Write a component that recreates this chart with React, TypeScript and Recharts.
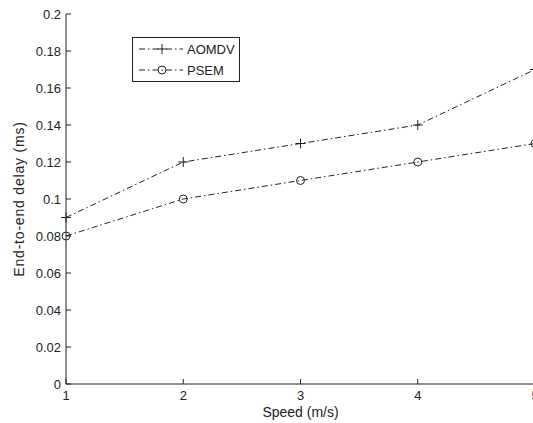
import { Legend, Line, LineChart, XAxis, YAxis } from "recharts";

const speeds = [1, 2, 3, 4, 5];
const aomdv = [0.09, 0.12, 0.13, 0.14, 0.17];
const psem = [0.08, 0.1, 0.11, 0.12, 0.13];
const yTicks = [0, 0.02, 0.04, 0.06, 0.08, 0.1, 0.12, 0.14, 0.16, 0.18, 0.2];

const data = speeds.map((speed, i) => ({ speed, aomdv: aomdv[i], psem: psem[i] }));

const FONT = "'Liberation Sans', Arial, sans-serif";
const INK = "#222";
const DASH = "6 3 1.5 3";
const TICK = 5;

function fmt(v: number) {
  return String(Number(v.toFixed(2)));
}

function PlusDot(props: any) {
  const { cx, cy } = props;
  if (cx == null || cy == null) return null;
  return (
    <path
      d={`M${cx - 5},${cy}H${cx + 5}M${cx},${cy - 5}V${cy + 5}`}
      stroke={INK}
      strokeWidth={1}
      fill="none"
    />
  );
}

function CircleDot(props: any) {
  const { cx, cy } = props;
  if (cx == null || cy == null) return null;
  return <circle cx={cx} cy={cy} r={4} stroke={INK} strokeWidth={1} fill="none" />;
}

function LeftTick({ x, y, payload }: any) {
  return (
    <g>
      <line x1={x} y1={y} x2={x + TICK} y2={y} stroke={INK} />
      <text x={x - 5} y={y} dy="0.35em" textAnchor="end" fontSize={13} fill={INK} fontFamily={FONT}>
        {fmt(payload.value)}
      </text>
    </g>
  );
}

function RightTick({ x, y }: any) {
  return <line x1={x} y1={y} x2={x - TICK} y2={y} stroke={INK} />;
}

function BottomTick({ x, y, payload }: any) {
  return (
    <g>
      <line x1={x} y1={y} x2={x} y2={y - TICK} stroke={INK} />
      <text x={x} y={y + 7} dy="0.71em" textAnchor="middle" fontSize={13} fill={INK} fontFamily={FONT}>
        {payload.value}
      </text>
    </g>
  );
}

function TopTick({ x, y }: any) {
  return <line x1={x} y1={y} x2={x} y2={y + TICK} stroke={INK} />;
}

const legendRows = [
  { name: "AOMDV", Marker: PlusDot },
  { name: "PSEM", Marker: CircleDot },
];

function LegendBox() {
  return (
    <svg width={109} height={46} style={{ display: "block" }}>
      <rect x={0.5} y={0.5} width={107} height={44} fill="#fff" stroke={INK} />
      {legendRows.map(({ name, Marker }, i) => {
        const y = 12 + i * 21;
        return (
          <g key={name}>
            <line x1={7} y1={y} x2={51} y2={y} stroke={INK} strokeDasharray={DASH} />
            <Marker cx={30} cy={y} />
            <text x={55} y={y} dy="0.35em" fontSize={13} fill={INK} fontFamily={FONT}>
              {name}
            </text>
          </g>
        );
      })}
    </svg>
  );
}

export default function App() {
  return (
    <div
      style={{
        position: "absolute",
        left: 0,
        top: 0,
        width: 533,
        height: 423,
        overflow: "hidden",
        background: "#fff",
      }}
    >
      <LineChart width={540} height={423} data={data} margin={{ top: 14, right: 5, left: 0, bottom: 0 }}>
        <XAxis
          dataKey="speed"
          type="number"
          domain={[1, 5]}
          ticks={speeds}
          height={39}
          tickSize={0}
          tickMargin={0}
          tick={<BottomTick />}
          axisLine={{ stroke: INK }}
          label={{
            value: "Speed (m/s)",
            position: "insideBottom",
            offset: 6,
            style: { fontSize: 14, fill: INK, fontFamily: FONT },
          }}
        />
        <XAxis
          xAxisId="top"
          dataKey="speed"
          type="number"
          orientation="top"
          domain={[1, 5]}
          ticks={speeds}
          allowDataOverflow
          height={0}
          tickSize={0}
          tick={<TopTick />}
          axisLine={{ stroke: INK }}
        />
        <YAxis
          type="number"
          domain={[0, 0.2]}
          ticks={yTicks}
          width={66}
          tickSize={0}
          tickMargin={0}
          tick={<LeftTick />}
          axisLine={{ stroke: INK }}
          label={{
            value: "End-to-end delay (ms)",
            angle: -90,
            position: "insideLeft",
            offset: 19,
            style: { fontSize: 14, fill: INK, fontFamily: FONT, textAnchor: "middle", letterSpacing: 0.8 },
          }}
        />
        <YAxis
          yAxisId="right"
          type="number"
          orientation="right"
          domain={[0, 0.2]}
          ticks={yTicks}
          allowDataOverflow
          width={0}
          tickSize={0}
          tick={<RightTick />}
          axisLine={{ stroke: INK }}
        />
        <Legend
          layout="vertical"
          align="center"
          verticalAlign="middle"
          content={<LegendBox />}
          wrapperStyle={{ left: 132, top: 37, width: 109, height: 46 }}
        />
        <Line
          dataKey="aomdv"
          name="AOMDV"
          stroke={INK}
          strokeWidth={1}
          strokeDasharray={DASH}
          dot={<PlusDot />}
          activeDot={false}
          isAnimationActive={false}
        />
        <Line
          dataKey="psem"
          name="PSEM"
          stroke={INK}
          strokeWidth={1}
          strokeDasharray={DASH}
          dot={<CircleDot />}
          activeDot={false}
          isAnimationActive={false}
        />
      </LineChart>
    </div>
  );
}
